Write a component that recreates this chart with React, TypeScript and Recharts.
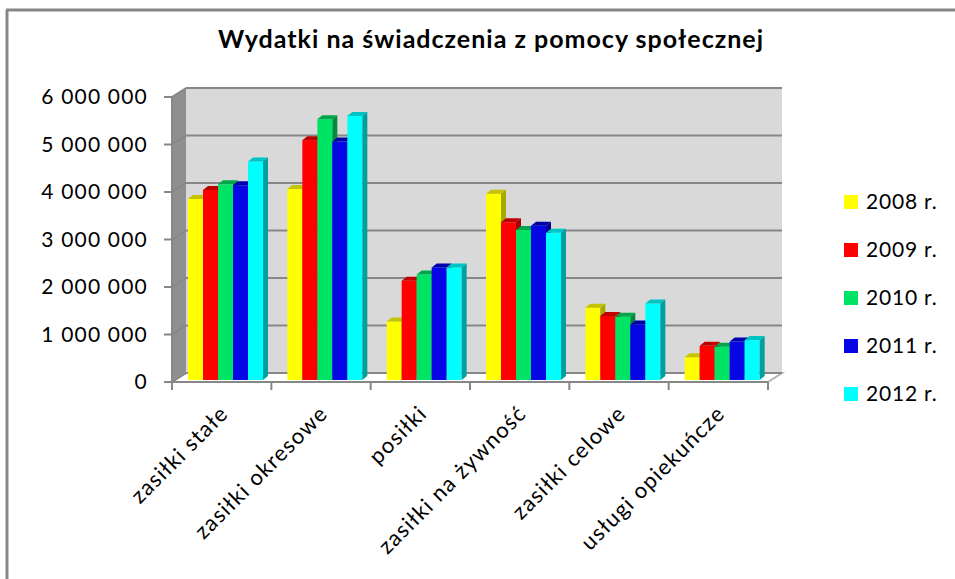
import { Bar, BarChart, CartesianGrid, XAxis, YAxis } from 'recharts';

const categories = [
  'zasiłki stałe',
  'zasiłki okresowe',
  'posiłki',
  'zasiłki na żywność',
  'zasiłki celowe',
  'usługi opiekuńcze'
];
const years = ['2008 r.', '2009 r.', '2010 r.', '2011 r.', '2012 r.'];
const values2008 = [3810000, 4020000, 1230000, 3920000, 1520000, 480000];
const values2009 = [4000000, 5050000, 2090000, 3320000, 1350000, 720000];
const values2010 = [4120000, 5490000, 2220000, 3160000, 1330000, 700000];
const values2011 = [4100000, 5020000, 2370000, 3250000, 1170000, 810000];
const values2012 = [4600000, 5560000, 2370000, 3100000, 1610000, 840000];
const yTicks = [0, 1000000, 2000000, 3000000, 4000000, 5000000, 6000000];

const series = [values2008, values2009, values2010, values2011, values2012];
// front / top / side shades per year
const faces = [
  { front: '#ffff00', top: '#c4c400', side: '#a8a800' },
  { front: '#ff0000', top: '#c00000', side: '#a80000' },
  { front: '#00e466', top: '#00a64a', side: '#008c3e' },
  { front: '#0505e6', top: '#0000a8', side: '#000090' },
  { front: '#00ffff', top: '#00c4c4', side: '#00a0a0' }
];

const rows = categories.map((name, i) => {
  const row: Record<string, string | number> = { name };
  series.forEach((s, k) => {
    row[`y${k}`] = s[i];
  });
  return row;
});

// layout of the front plane of the 3D plot
const W = 955;
const H = 579;
const PLOT_L = 172;
const PLOT_R = 768;
const PLOT_T = 97;
const PLOT_B = 382;
const BAND = (PLOT_R - PLOT_L) / categories.length;
const WALL_DX = 14; // depth of the back wall
const WALL_DY = -9;
const BAR_DX = 5; // depth of one bar
const BAR_DY = -4;
const BAR_SHIFT_X = 4; // bars sit a little behind the front plane
const BAR_SHIFT_Y = -2;
const AXIS_GRAY = '#878787';
const FONT = 'Lato, "Open Sans", sans-serif';

function Bar3D(props: any) {
  const { x, y, width, height, index, face } = props;
  if (width == null || height == null || height <= 0) return null;
  const f = faces[face];
  const x0 = x + BAR_SHIFT_X;
  const y0 = y + BAR_SHIFT_Y;
  const x1 = x0 + width;
  const y1 = y0 + height;
  return (
    <g key={index}>
      <rect x={x0} y={y0} width={width} height={height} fill={f.front} />
      <polygon
        points={`${x0},${y0} ${x0 + BAR_DX},${y0 + BAR_DY} ${x1 + BAR_DX},${y0 + BAR_DY} ${x1},${y0}`}
        fill={f.top}
      />
      <polygon
        points={`${x1},${y0} ${x1 + BAR_DX},${y0 + BAR_DY} ${x1 + BAR_DX},${y1 + BAR_DY} ${x1},${y1}`}
        fill={f.side}
      />
    </g>
  );
}

function GridLine3D(props: any) {
  const { x1, x2, y1 } = props;
  return (
    <g>
      <line x1={x1} y1={y1} x2={x1 + WALL_DX} y2={y1 + WALL_DY} stroke={AXIS_GRAY} strokeWidth={2} />
      <line
        x1={x1 + WALL_DX}
        y1={y1 + WALL_DY}
        x2={x2 + WALL_DX}
        y2={y1 + WALL_DY}
        stroke={AXIS_GRAY}
        strokeWidth={2}
      />
    </g>
  );
}

function CategoryTick(props: any) {
  const { x, y, payload, index } = props;
  const ax = x + 8;
  const ay = y + 33;
  const last = index === categories.length - 1;
  return (
    <g>
      <line x1={x - BAND / 2} y1={y} x2={x - BAND / 2} y2={y + 8} stroke={AXIS_GRAY} strokeWidth={2} />
      {last ? (
        <line x1={x + BAND / 2} y1={y} x2={x + BAND / 2} y2={y + 8} stroke={AXIS_GRAY} strokeWidth={2} />
      ) : null}
      <text
        x={ax}
        y={ay}
        textAnchor='end'
        transform={`rotate(-45 ${ax} ${ay})`}
        fontSize={22}
        letterSpacing={1.2}
        fontFamily={FONT}
        fill='#000'
      >
        {payload.value}
      </text>
    </g>
  );
}

const fmt = (v: number) => String(v).replace(/\B(?=(\d{3})+(?!\d))/g, ' ');

export default function App() {
  return (
    <div style={{ position: 'absolute', left: 0, top: 0, width: W, height: H, background: '#fff' }}>
      <svg width={W} height={H} style={{ position: 'absolute', left: 0, top: 0 }}>
        <line x1={7} y1={10} x2={7} y2={H} stroke={AXIS_GRAY} strokeWidth={3} />
        <line x1={6} y1={10} x2={W} y2={10} stroke={AXIS_GRAY} strokeWidth={3} />
        {/* back wall, side wall, floor */}
        <rect
          x={PLOT_L + WALL_DX}
          y={PLOT_T + WALL_DY}
          width={PLOT_R - PLOT_L}
          height={PLOT_B - PLOT_T}
          fill='#d9d9d9'
        />
        <polygon
          points={`${PLOT_L},${PLOT_T} ${PLOT_L + WALL_DX},${PLOT_T + WALL_DY} ${PLOT_L + WALL_DX},${PLOT_B + WALL_DY} ${PLOT_L},${PLOT_B}`}
          fill='#8f8f8f'
        />
        <polygon
          points={`${PLOT_L},${PLOT_B} ${PLOT_L + WALL_DX},${PLOT_B + WALL_DY} ${PLOT_R + WALL_DX},${PLOT_B + WALL_DY} ${PLOT_R},${PLOT_B}`}
          fill='#ffffff'
          stroke='#b4b4b4'
          strokeWidth={2}
        />
        <text
          x={491}
          y={48}
          textAnchor='middle'
          fontSize={25}
          letterSpacing={1}
          fontWeight='bold'
          fontFamily={FONT}
          fill='#000'
        >
          Wydatki na świadczenia z pomocy społecznej
        </text>
        {years.map((label, k) => (
          <g key={label}>
            <rect x={844} y={195 + k * 48} width={14} height={14} fill={faces[k].front} />
            <text
              x={866}
              y={209 + k * 48}
              fontSize={21}
              letterSpacing={0.8}
              fontFamily={FONT}
              fill='#000'
            >
              {label}
            </text>
          </g>
        ))}
      </svg>
      <div style={{ position: 'absolute', left: 0, top: 0 }}>
        <BarChart
          width={W}
          height={H}
          data={rows}
          margin={{ top: PLOT_T, right: W - PLOT_R, bottom: 7, left: PLOT_L - 150 }}
          barCategoryGap={12}
          barGap={0}
        >
          <CartesianGrid horizontal={(p: any) => <GridLine3D key={p.key} {...p} />} vertical={false} />
          <XAxis
            dataKey='name'
            height={H - PLOT_B - 7}
            interval={0}
            tickLine={false}
            tickSize={0}
            tickMargin={0}
            axisLine={{ stroke: AXIS_GRAY, strokeWidth: 2 }}
            tick={<CategoryTick />}
          />
          <YAxis
            width={150}
            domain={[0, 6000000]}
            ticks={yTicks}
            tickFormatter={fmt}
            tickSize={8}
            tickMargin={16}
            tickLine={{ stroke: AXIS_GRAY, strokeWidth: 2 }}
            axisLine={{ stroke: AXIS_GRAY, strokeWidth: 2 }}
            tick={{ fontSize: 21, fontFamily: FONT, fill: '#000', letterSpacing: 1.2 }}
          />
          {series.map((_, k) => (
            <Bar
              key={k}
              dataKey={`y${k}`}
              fill={faces[k].front}
              isAnimationActive={false}
              shape={(p: any) => <Bar3D {...p} face={k} />}
            />
          ))}
        </BarChart>
      </div>
    </div>
  );
}
